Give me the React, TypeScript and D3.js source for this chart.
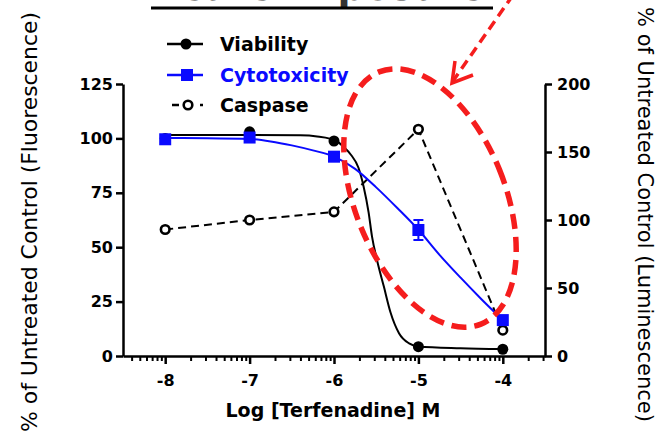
import * as d3 from 'd3'
import { useEffect, useRef } from 'react'

// doses (log M) and measured values
const LOG_DOSE = [-8, -7, -6, -5, -4]
const VIABILITY = [100, 103, 98.8, 4.3, 3.1]
const CYTOTOX = [99.6, 100.4, 91.6, 57.9, 16.5]
const CYTOTOX_SEM = [0, 0, 0, 4.6, 0]
const CASPASE = [93, 100, 106, 166.7, 19]

// fitted curves
const VIAB_FIT_X = [-8, -7, -6.4, -6.2, -6.05, -5.95, -5.89, -5.8, -5.71, -5.65, -5.59, -5.55, -5.49, -5.41, -5.33, -5.23, -5.11, -5.0, -4.5, -4.0]
const VIAB_FIT_Y = [101.6, 101.6, 101.4, 100.9, 99.9, 98.3, 96.2, 92.5, 86.5, 78, 66, 55, 44, 32, 20, 10.5, 5.8, 4.4, 3.6, 3.2]
const CYTO_FIT_X = [-8, -7.5, -7, -6.75, -6.5, -6.25, -6, -5.75, -5.5, -5.25, -5, -4.75, -4.5, -4.25, -4]
const CYTO_FIT_Y = [100.2, 100.1, 99.7, 98.6, 96.8, 94.5, 91.6, 86, 77.5, 68, 58, 46.5, 36, 26, 16.5]

const X_TICKS = [-8, -7, -6, -5, -4]
const LEFT_TICKS = [0, 25, 50, 75, 100, 125]
const RIGHT_TICKS = [0, 50, 100, 150, 200]
const LEGEND = ['Viability', 'Cytotoxicity', 'Caspase']

const W = 657
const H = 437
const FONT = '"DejaVu Sans", Arial, sans-serif'
const BLUE = '#0a0aff'
const RED = '#f51d1d'

const App = () => {
  const xAxisRef = useRef<SVGGElement>(null)
  const xMinorRef = useRef<SVGGElement>(null)
  const leftRef = useRef<SVGGElement>(null)
  const rightRef = useRef<SVGGElement>(null)

  const x = d3.scaleLinear().domain([-8.5, -3.5]).range([123, 545])
  const yL = d3.scaleLinear().domain([0, 125]).range([356, 84])
  const yR = d3.scaleLinear().domain([0, 200]).range([356, 84])

  const minorTicks: number[] = []
  for (let d = -9; d <= -4; d++) {
    for (let k = 2; k <= 9; k++) {
      const v = d + Math.log10(k)
      if (v > -8.5 && v < -3.5) minorTicks.push(v)
    }
  }

  useEffect(() => {
    const style = (g: any) => {
      g.select('.domain').attr('stroke-width', 2.5).attr('stroke', '#000')
      g.selectAll('.tick line').attr('stroke-width', 2.5).attr('stroke', '#000')
      g.selectAll('.tick text')
        .attr('font-family', FONT)
        .attr('font-weight', 'bold')
        .attr('font-size', 16)
        .attr('fill', '#000')
    }

    const gx = d3.select(xAxisRef.current)
    gx.selectAll('*').remove()
    gx.call(d3.axisBottom(x).tickValues(X_TICKS).tickSize(8).tickSizeOuter(0).tickPadding(11).tickFormat((d) => String(d)))
    style(gx)

    const gm = d3.select(xMinorRef.current)
    gm.selectAll('*').remove()
    gm.call(d3.axisBottom(x).tickValues(minorTicks).tickSize(5).tickSizeOuter(0).tickFormat(() => ''))
    gm.select('.domain').remove()
    gm.selectAll('.tick line').attr('stroke-width', 2).attr('stroke', '#000')

    const gl = d3.select(leftRef.current)
    gl.selectAll('*').remove()
    gl.call(d3.axisLeft(yL).tickValues(LEFT_TICKS).tickSize(7).tickSizeOuter(0).tickPadding(3))
    style(gl)

    const gr = d3.select(rightRef.current)
    gr.selectAll('*').remove()
    gr.call(d3.axisRight(yR).tickValues(RIGHT_TICKS).tickSize(7).tickSizeOuter(0).tickPadding(5))
    style(gr)
  }, [])

  const viabFit = d3.line<number>()
    .x((d, i) => x(VIAB_FIT_X[i]))
    .y((d) => yL(d))
    .curve(d3.curveMonotoneX)(VIAB_FIT_Y)

  const cytoFit = d3.line<number>()
    .x((d, i) => x(CYTO_FIT_X[i]))
    .y((d) => yL(d))
    .curve(d3.curveMonotoneX)(CYTO_FIT_Y)

  const caspLine = d3.line<number>()
    .x((d, i) => x(LOG_DOSE[i]))
    .y((d) => yR(d))(CASPASE)

  // highlight ellipse + arrow
  const ell = { cx: 430, cy: 198, rx: 75, ry: 136, rot: -22 }

  return (
    <svg width={W} height={H} style={{ position: 'absolute', left: 0, top: 0, background: '#fff' }}>
      {/* title, clipped at top */}
      <text x={151} y={-0.5} fontFamily={FONT} fontWeight="bold" fontSize={40} textLength={334} lengthAdjust="spacingAndGlyphs" fill="#333">
        Acute Exposure
      </text>
      <line x1={151} x2={493} y1={8} y2={8} stroke="#000" strokeWidth={3} />

      <g ref={xMinorRef} transform="translate(0,356)" />
      <g ref={xAxisRef} transform="translate(0,356)" />
      <g ref={leftRef} transform="translate(123,0)" />
      <g ref={rightRef} transform="translate(545,0)" />

      <text x={333} y={417} textAnchor="middle" fontFamily={FONT} fontWeight="bold" fontSize={19}>
        Log [Terfenadine] M
      </text>
      <text transform="translate(37,222) rotate(-90)" textAnchor="middle" fontFamily={FONT} fontSize={21.5} textLength={420} lengthAdjust="spacingAndGlyphs">
        % of Untreated Control (Fluorescence)
      </text>
      <text transform="translate(638,7) rotate(90)" textAnchor="start" fontFamily={FONT} fontSize={21}>
        % of Untreated Control (Luminescence)
      </text>

      {/* caspase */}
      <path d={caspLine ?? ''} fill="none" stroke="#000" strokeWidth={2} strokeDasharray="8,5" />
      {CASPASE.map((v, i) => (
        <circle key={'c' + i} cx={x(LOG_DOSE[i])} cy={yR(v)} r={4.3} fill="#fff" stroke="#000" strokeWidth={2.6} />
      ))}

      {/* viability */}
      <path d={viabFit ?? ''} fill="none" stroke="#000" strokeWidth={2} />
      {VIABILITY.map((v, i) => (
        <circle key={'v' + i} cx={x(LOG_DOSE[i])} cy={yL(v)} r={5.5} fill="#000" />
      ))}

      {/* cytotoxicity */}
      <path d={cytoFit ?? ''} fill="none" stroke={BLUE} strokeWidth={2} />
      {CYTOTOX.map((v, i) => {
        const cx = x(LOG_DOSE[i])
        const e = CYTOTOX_SEM[i]
        return (
          <g key={'t' + i}>
            {e > 0 && (
              <g stroke={BLUE} strokeWidth={2}>
                <line x1={cx} x2={cx} y1={yL(v + e)} y2={yL(v - e)} />
                <line x1={cx - 5} x2={cx + 5} y1={yL(v + e)} y2={yL(v + e)} />
                <line x1={cx - 5} x2={cx + 5} y1={yL(v - e)} y2={yL(v - e)} />
              </g>
            )}
            <rect x={cx - 6} y={yL(v) - 6} width={12} height={12} fill={BLUE} />
          </g>
        )
      })}

      {/* legend */}
      <g fontFamily={FONT} fontWeight="bold" fontSize={19}>
        <line x1={167} x2={203} y1={44} y2={44} stroke="#000" strokeWidth={2.5} />
        <circle cx={186} cy={44} r={5.5} fill="#000" />
        <text x={220} y={51}>{LEGEND[0]}</text>

        <line x1={167} x2={203} y1={75} y2={75} stroke={BLUE} strokeWidth={2.5} />
        <rect x={181} y={69} width={12} height={12} fill={BLUE} />
        <text x={220} y={82} fill={BLUE}>{LEGEND[1]}</text>

        <line x1={172} x2={179} y1={105} y2={105} stroke="#000" strokeWidth={2.5} />
        <line x1={200} x2={203} y1={105} y2={105} stroke="#000" strokeWidth={2.5} />
        <circle cx={188} cy={105} r={4.3} fill="#fff" stroke="#000" strokeWidth={2.6} />
        <text x={220} y={112}>{LEGEND[2]}</text>
      </g>

      {/* red highlight */}
      <ellipse
        cx={ell.cx}
        cy={ell.cy}
        rx={ell.rx}
        ry={ell.ry}
        transform={`rotate(${ell.rot},${ell.cx},${ell.cy})`}
        fill="none"
        stroke={RED}
        strokeWidth={5.5}
        strokeDasharray="15,8"
      />
      <line x1={513} y1={-5} x2={453} y2={81} stroke={RED} strokeWidth={3.5} strokeDasharray="10,6" />
      <polyline points="455,61 452,83 473,75" fill="none" stroke={RED} strokeWidth={3.5} />
    </svg>
  )
}

export default App
